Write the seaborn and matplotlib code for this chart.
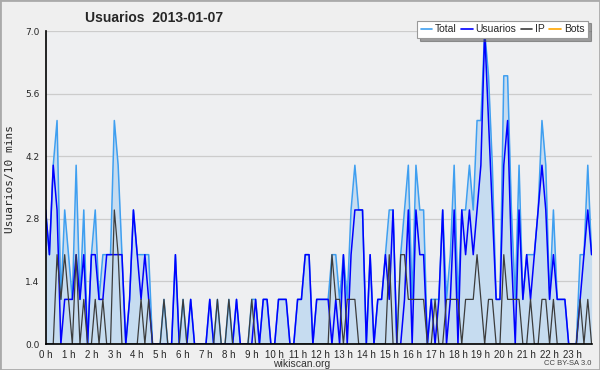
import matplotlib
matplotlib.use("Agg")
import numpy as np
import matplotlib.pyplot as plt
import seaborn as sns
from matplotlib.lines import Line2D
from matplotlib.patches import Rectangle
from matplotlib.ticker import MultipleLocator, FixedLocator

# users per 10-minute slot, 2013-01-07 (144 slots, 12 per row = 2 hours)
total = [
    3, 2, 4, 5, 1, 3, 2, 1, 4, 1, 3, 0,
    2, 3, 1, 2, 2, 2, 5, 4, 2, 0, 1, 3,
    2, 2, 2, 2, 0, 0, 0, 1, 0, 0, 2, 0,
    1, 0, 1, 0, 0, 0, 0, 1, 0, 1, 0, 0,
    1, 0, 1, 0, 0, 0, 1, 1, 0, 1, 1, 0,
    0, 1, 1, 1, 0, 0, 1, 1, 2, 2, 0, 1,
    1, 1, 1, 2, 2, 1, 2, 1, 3, 4, 3, 3,
    0, 2, 0, 1, 1, 2, 3, 3, 0, 2, 3, 4,
    1, 4, 3, 3, 0, 1, 1, 1, 3, 1, 2, 4,
    1, 3, 3, 4, 3, 5, 5, 7, 6, 4, 1, 1,
    6, 6, 3, 1, 4, 1, 2, 2, 2, 3, 5, 4,
    1, 3, 1, 1, 1, 0, 0, 0, 2, 2, 4, 2,
]
usuarios = [
    3, 2, 4, 3, 0, 1, 1, 1, 2, 1, 2, 0,
    2, 2, 1, 1, 2, 2, 2, 2, 2, 0, 1, 3,
    2, 1, 2, 1, 0, 0, 0, 0, 0, 0, 2, 0,
    0, 0, 1, 0, 0, 0, 0, 1, 0, 0, 0, 0,
    0, 0, 1, 0, 0, 0, 0, 1, 0, 1, 1, 0,
    0, 1, 1, 1, 0, 0, 1, 1, 2, 2, 0, 1,
    1, 1, 1, 0, 1, 0, 2, 0, 2, 3, 3, 3,
    0, 2, 0, 1, 1, 2, 1, 3, 0, 0, 1, 3,
    0, 3, 2, 2, 0, 1, 0, 1, 3, 0, 1, 3,
    0, 3, 2, 3, 2, 3, 4, 7, 5, 3, 1, 1,
    4, 5, 2, 0, 3, 1, 2, 1, 2, 3, 4, 3,
    1, 2, 1, 1, 1, 0, 0, 0, 1, 2, 3, 2,
]
ip = [
    0, 0, 0, 2, 1, 2, 1, 0, 2, 0, 1, 0,
    0, 1, 0, 1, 0, 0, 3, 2, 0, 0, 0, 0,
    0, 1, 0, 1, 0, 0, 0, 1, 0, 0, 0, 0,
    1, 0, 0, 0, 0, 0, 0, 0, 0, 1, 0, 0,
    1, 0, 0, 0, 0, 0, 1, 0, 0, 0, 0, 0,
    0, 0, 0, 0, 0, 0, 0, 0, 0, 0, 0, 0,
    0, 0, 0, 2, 1, 1, 0, 1, 1, 1, 0, 0,
    0, 0, 0, 0, 0, 0, 2, 0, 0, 2, 2, 1,
    1, 1, 1, 1, 0, 0, 1, 0, 0, 1, 1, 1,
    1, 0, 1, 1, 1, 2, 1, 0, 1, 1, 0, 0,
    2, 1, 1, 1, 1, 0, 0, 1, 0, 0, 1, 1,
    0, 1, 0, 0, 0, 0, 0, 0, 1, 0, 1, 0,
]
bots = [
    0, 0, 0, 0, 0, 0, 0, 0, 0, 0, 0, 0,
    0, 0, 0, 0, 0, 0, 0, 0, 0, 0, 0, 0,
    0, 0, 0, 0, 0, 0, 0, 0, 0, 0, 0, 0,
    0, 0, 0, 0, 0, 0, 0, 0, 0, 0, 0, 0,
    0, 0, 0, 0, 0, 0, 0, 0, 0, 0, 0, 0,
    0, 0, 0, 0, 0, 0, 0, 0, 0, 0, 0, 0,
    0, 0, 0, 0, 0, 0, 0, 0, 0, 0, 0, 0,
    0, 0, 0, 0, 0, 0, 0, 0, 0, 0, 0, 0,
    0, 0, 0, 0, 0, 0, 0, 0, 0, 0, 0, 0,
    0, 0, 0, 0, 0, 0, 0, 0, 0, 0, 0, 0,
    0, 0, 0, 0, 0, 0, 0, 0, 0, 0, 0, 0,
    0, 0, 0, 0, 0, 0, 0, 0, 0, 0, 0, 0,
]
hour_labels = [
    "0 h", "1 h", "2 h", "3 h", "4 h", "5 h", "6 h", "7 h", "8 h", "9 h",
    "10 h", "11 h", "12 h", "13 h", "14 h", "15 h", "16 h", "17 h", "18 h",
    "19 h", "20 h", "21 h", "22 h", "23 h",
]
y_ticks = [0.0, 1.4, 2.8, 4.2, 5.6, 7.0]

sns.set_style("white")
plt.rcParams["font.family"] = ["Liberation Sans", "DejaVu Sans"]

c_total = "#3f9ff0"
c_fill = "#c6dcf0"
c_users = "#0000ff"
c_ip = "#3c3c3c"
c_bots = "#ffa500"

fig = plt.figure(figsize=(6, 3.7), dpi=100, facecolor="#efefef")
ax = fig.add_axes([0.076, 0.070, 0.910, 0.846])
ax.set_facecolor("#eeeff1")

slots = np.arange(len(total))
ax.fill_between(slots, total, color=c_fill, lw=0, zorder=1)
sns.lineplot(x=slots, y=bots, color=c_bots, lw=1, ax=ax, zorder=2)
sns.lineplot(x=slots, y=total, color=c_total, lw=1.1, ax=ax, zorder=3)
sns.lineplot(x=slots, y=usuarios, color=c_users, lw=1.1, ax=ax, zorder=4)
sns.lineplot(x=slots, y=ip, color=c_ip, lw=0.9, ax=ax, zorder=5)

ax.set_xlim(0, len(total) - 1)
ax.set_ylim(0, 7)
ax.set_yticks(y_ticks)
ax.set_yticklabels([f"{v:.1f}" for v in y_ticks], fontsize=6.5, family="DejaVu Sans")
ax.yaxis.set_minor_locator(MultipleLocator(0.35))
ax.xaxis.set_major_locator(FixedLocator(np.arange(0, 144, 6)))
ax.set_xticklabels(hour_labels, fontsize=7)
ax.xaxis.set_minor_locator(MultipleLocator(1))
ax.tick_params(axis="both", which="major", length=4, width=1, color="black", pad=0.3)
ax.tick_params(axis="both", which="minor", length=2.5, width=0.8, color="black")
ax.grid(axis="y", color="#cccccc", lw=0.9, zorder=0)
ax.set_axisbelow(True)
for side in ["top", "right"]:
    ax.spines[side].set_visible(False)
for side in ["left", "bottom"]:
    ax.spines[side].set_color("black")
    ax.spines[side].set_linewidth(1.2)
    ax.spines[side].set_zorder(6)
ax.set_xlabel("")
ax.set_ylabel("")

handles = [
    Line2D([], [], color=c_total, lw=1.2),
    Line2D([], [], color=c_users, lw=1.2),
    Line2D([], [], color=c_ip, lw=1.2),
    Line2D([], [], color=c_bots, lw=1.2),
]
leg = ax.legend(handles, ["Total", "Usuarios", "IP", "Bots"], ncol=4,
                loc="upper right", bbox_to_anchor=(1.003, 1.05), fontsize=7.5,
                handlelength=1.1, handletextpad=0.3, columnspacing=0.4,
                borderpad=0.35, frameon=True, fancybox=False, shadow=True,
                framealpha=1)
leg.get_frame().set_edgecolor("#999999")
leg.get_frame().set_linewidth(0.8)

fig.text(0.142, 0.952, "Usuarios  2013-01-07", fontsize=10, weight="bold",
         ha="left", va="center")
fig.text(0.017, 0.515, "Usuarios/10 mins", family="DejaVu Sans Mono",
         fontsize=8, rotation=90, ha="center", va="center")
fig.text(0.502, 0.016, "wikiscan.org", fontsize=7.5, ha="center", va="center",
         color="#333333")
fig.text(0.985, 0.017, "CC BY-SA 3.0", fontsize=5.5, ha="right", va="center",
         color="#444444")
fig.patches.append(Rectangle((0, 0), 1, 1, transform=fig.transFigure,
                             fill=False, edgecolor="#aaaaaa", lw=2))

fig.savefig("out.png", dpi=100, facecolor=fig.get_facecolor())
